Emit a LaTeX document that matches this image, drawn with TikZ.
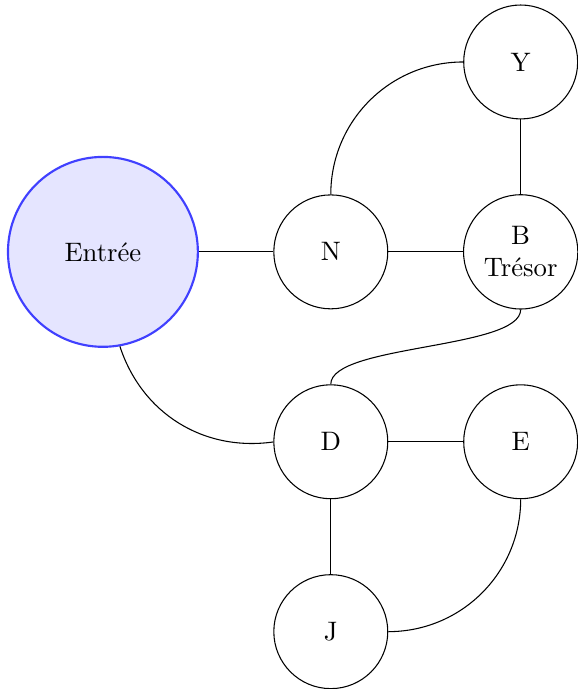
\documentclass[tikz,border=0pt]{standalone}
\usepackage{fontspec}
\begin{document}
\begin{tikzpicture}[
    room/.style={circle, draw, minimum size=1.5cm, align=center},
    entry/.style={circle, draw=blue!75, fill=blue!10, thick, minimum size=2.5cm}
]
    \useasboundingbox (-4.355, -5.755) rectangle (3.25, 3.316);

    \node[entry] (entree) at (-3, 0) {Entrée};
    \node[room] (n) at (0, 0) {N};
    \node[room] (b) at (2.5, 0) {B\\Trésor};
    \node[room] (y) at (2.5, 2.5) {Y};
    \node[room] (d) at (0, -2.5) {D};
    \node[room] (e) at (2.5, -2.5) {E};
    \node[room] (j) at (0, -5) {J};

    \draw (entree) -- (n);
    \draw (n) -- (b);
    \draw (y) -- (b);
    \draw (n) to[bend left=45] (y);
    \draw (b) to[out=-90, in=90, looseness=0.5] (d);
    \draw (entree) to[bend right=40] (d);
    \draw (d) -- (e);
    \draw (d) -- (j);
    \draw (e) to[bend left=45] (j);
\end{tikzpicture}
\end{document}
